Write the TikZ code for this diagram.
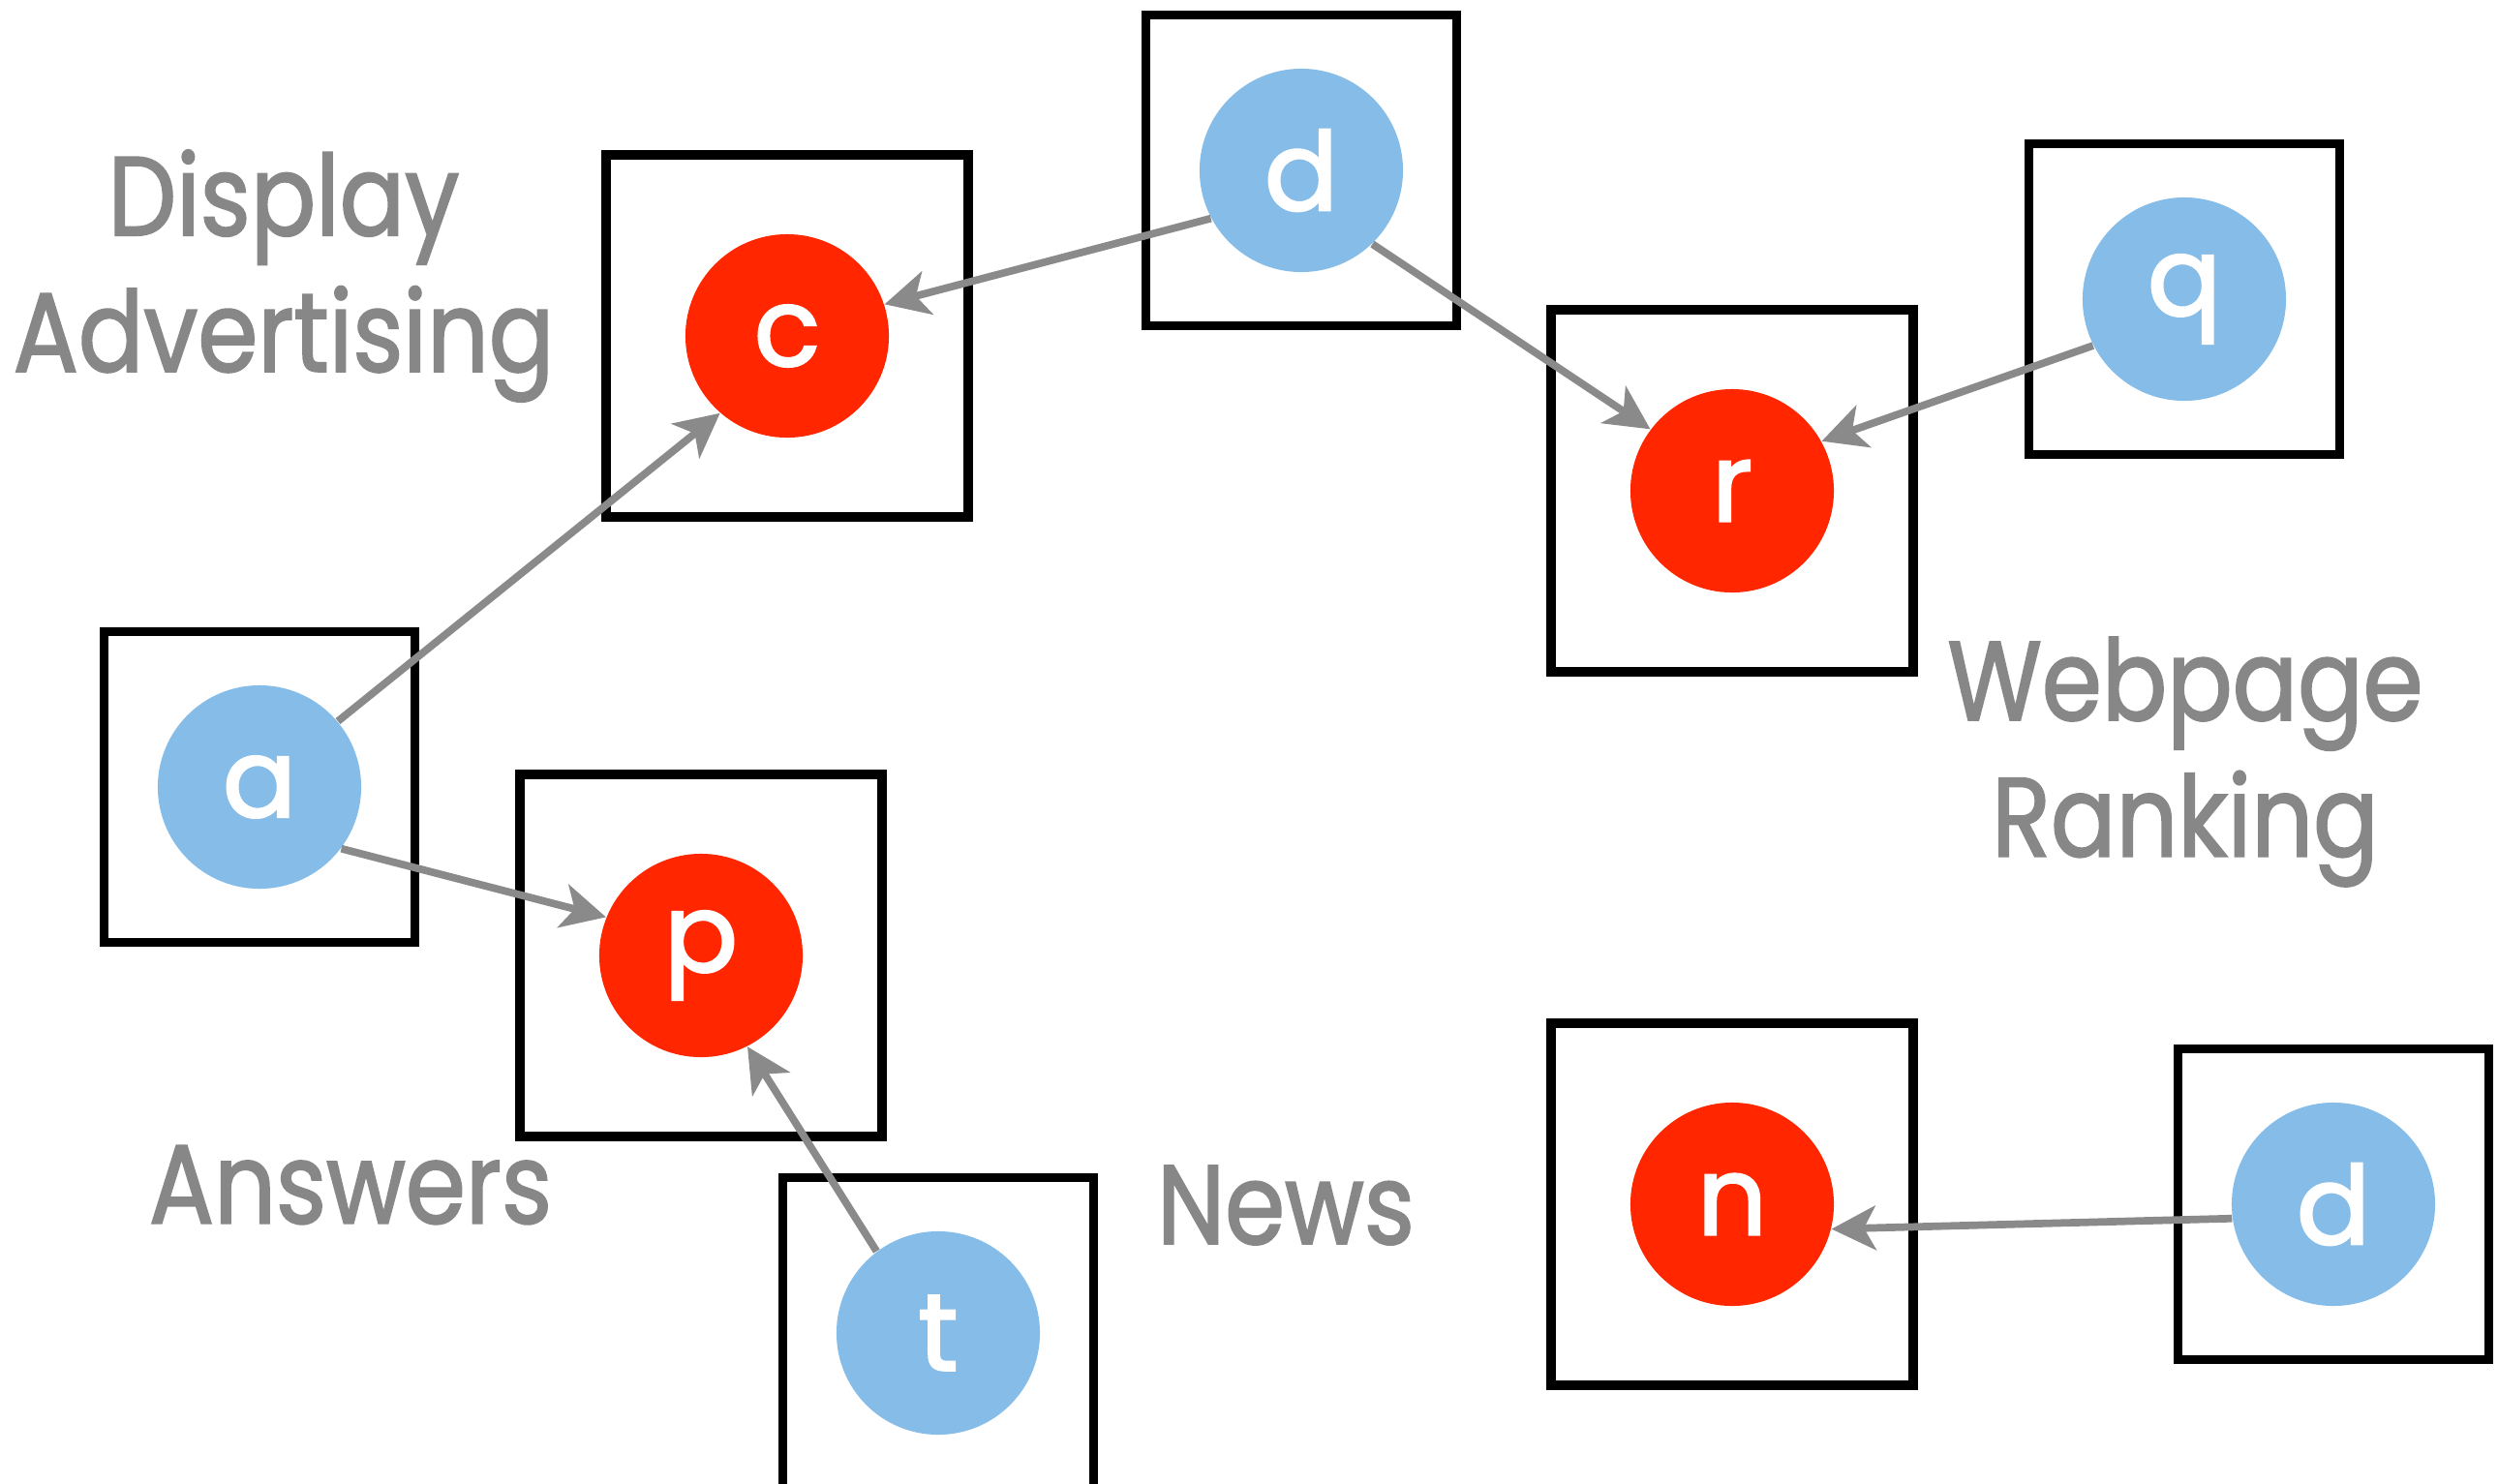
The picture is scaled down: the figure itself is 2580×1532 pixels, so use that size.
\documentclass[tikz,border=0pt]{standalone}
\usepackage{fontspec}
\setmainfont{Poppins}
\newfontfamily\arealabelfont{Poppins}[FakeStretch=0.86, FakeBold=1.6]
\newfontfamily\ballfont{Poppins}[FakeBold=2.2]
\usetikzlibrary{arrows.meta}
\definecolor{hotred}{HTML}{FF2600}
\definecolor{skyblue}{HTML}{86BCE8}
\definecolor{labelgray}{HTML}{878787}
\definecolor{linkgray}{HTML}{8A8A8A}
\tikzset{
  frame/.style={draw=black, line width=2.7pt, rectangle, inner sep=0pt},
  smallframe/.style={frame, minimum size=3.21cm},
  bigframe/.style={frame, minimum size=3.735cm},
  ball/.style={circle, inner sep=0pt, minimum size=2.1cm, text=white,
    font=\ballfont\fontsize{32}{32}\selectfont},
  query/.style={ball, fill=skyblue},
  result/.style={ball, fill=hotred},
  area/.style={text=labelgray, font=\arealabelfont\fontsize{33}{40}\selectfont,
    align=center},
  link/.style={draw=linkgray, line width=2.2pt,
    -{Stealth[length=13pt, width=13pt, inset=3.5pt]}},
}
\begin{document}
\begin{tikzpicture}[x=0.01cm, y=-0.01cm]
\useasboundingbox (0,0) rectangle (2580,1532);

% frames around each circle
\node[bigframe]   (fc)  at (813,347)   {};
\node[smallframe] (fd)  at (1344,176)  {};
\node[smallframe] (fq)  at (2256,309)  {};
\node[bigframe]   (fr)  at (1789,507)  {};
\node[smallframe] (fa)  at (268,813)   {};
\node[bigframe]   (fp)  at (724,987)   {};
\node[smallframe] (ft)  at (969,1377)  {};
\node[bigframe]   (fn)  at (1789,1244) {};
\node[smallframe] (fd2) at (2410,1244) {};

% circles
\node[result] (c)  at (813,347)   {c};
\node[query]  (d)  at (1344,176)  {d};
\node[query]  (q)  at (2256,309)  {q};
\node[result] (r)  at (1789,507)  {r};
\node[query]  (a)  at (268,813)   {a};
\node[result] (p)  at (724,987)   {p};
\node[query]  (t)  at (969,1377)  {t};
\node[result] (n)  at (1789,1244) {n};
\node[query]  (d2) at (2410,1244) {d};

% area labels
\node[area] (disp) at (293,285)  {Display\\Advertising};
\node[area] (web)  at (2257,787) {Webpage\\Ranking};
\node[area] (ans)  at (362,1224) {Answers};
\node[area] (news) at (1328,1245) {News};

% links
\draw[link] (d.208)  -- (c.18);
\draw[link] (a.40)   -- (c.229);
\draw[link] (d.314)  -- (r.143);
\draw[link] (q.207)  -- (r.29);
\draw[link] (a.323)  -- (p.158);
\draw[link] (t.127)  -- (p.297);
\draw[link] (d2.188) -- (n.346);
\end{tikzpicture}
\end{document}
